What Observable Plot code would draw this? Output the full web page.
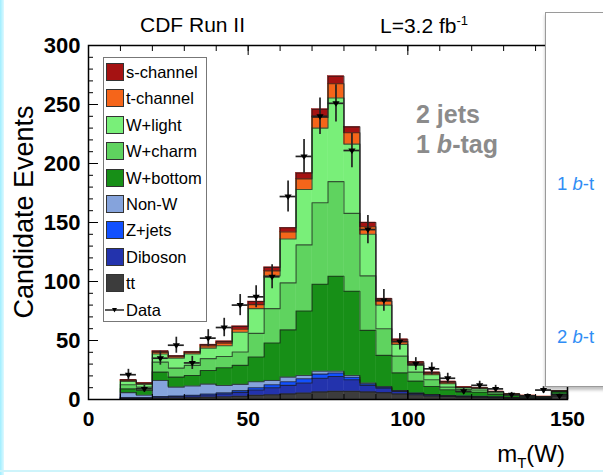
<!DOCTYPE html>
<html>
<head>
<meta charset="utf-8">
<script src="https://cdn.jsdelivr.net/npm/d3@7"></script>
<script src="https://cdn.jsdelivr.net/npm/@observablehq/plot@0.6"></script>
<style>
  html, body { margin: 0; padding: 0; background: #fff; }
  #chart { position: relative; width: 603px; height: 475px; overflow: hidden;
           font-family: "Liberation Sans", Arial, Helvetica, sans-serif; }
  #chart svg { position: absolute; left: 0; top: 0; }
  .txt { position: absolute; white-space: nowrap; line-height: 1; color: #000; }
  .legend { position: absolute; left: 103px; top: 57px; width: 104px; height: 265px;
            border: 1px solid #777; background: #fff; box-sizing: border-box; }
  .sw { position: absolute; left: 2px; width: 18px; height: 18px; box-sizing: border-box;
        border: 1px solid #333; }
  .lt { position: absolute; left: 22px; font-size: 16.5px; line-height: 1; white-space: nowrap; }
  .panel { position: absolute; left: 545px; top: 12px; width: 80px; height: 375px;
           border: 1px solid #9a9a9a; background: #fff; box-sizing: border-box;
           box-shadow: 0 3px 3px rgba(0,0,0,0.25); }
  .btag { position: absolute; left: 11px; font-size: 18.5px; line-height: 1; color: #2f8df5; white-space: nowrap; }
  .edgeL { position: absolute; left: 0; top: 0; width: 4px; height: 475px;
           background: linear-gradient(to right, #9feeff, #dff9ff); }
  .edgeB { position: absolute; left: 0; top: 470px; width: 603px; height: 2px; background: #cdf4fb; }
</style>
</head>
<body>
<div id="chart"></div>
<script>
// m_T(W) histogram, 2 jets / 1 b-tag, CDF Run II, 3.2 fb^-1
const binStart = [10, 15, 20, 25, 30, 35, 40, 45, 50, 55, 60, 65, 70, 75,
                  80, 85, 90, 95, 100, 105, 110, 115, 120, 125, 130, 135, 140, 145];
const binWidth = 5;

// stacked components, bottom to top
const components = ["tt", "Diboson", "Z+jets", "Non-W", "W+bottom", "W+charm", "W+light", "t-channel", "s-channel"];
const componentColors = ["#3c3c3c", "#2333ad", "#1150ff", "#85a3dc", "#178f17", "#5fd35f", "#79ef79", "#f5651a", "#a51212"];

const ttbar    = [0.6, 0.6, 1.0, 1.4, 1.6, 2.0, 2.3, 2.8, 3.6, 4.0, 4.8, 5.5, 6.5, 7.0, 7.0, 6.5, 5.8, 4.8, 4.0, 3.0, 2.5, 2.0, 1.8, 1.5, 1.2, 1.0, 0.8, 4.0];
const diboson  = [0.6, 0.6, 1.0, 1.1, 1.4, 1.8, 2.3, 3.2, 4.4, 6.0, 7.2, 8.5, 11.5, 12.5, 9.7, 5.5, 3.7, 2.0, 1.0, 0.8, 0.5, 0.6, 0.5, 0.4, 0.3, 0.2, 0.2, 0.3];
const zjets    = [0.4, 0.4, 0.6, 0.5, 0.6, 0.8, 1.0, 1.5, 2.0, 2.5, 3.0, 3.6, 3.5, 2.9, 2.1, 1.2, 0.8, 0.5, 0.3, 0.2, 0.2, 0.2, 0.2, 0.2, 0.1, 0.1, 0.1, 0.1];
const nonW     = [4.2, 2.0, 13.5, 7.5, 7.9, 8.4, 6.3, 5.3, 5.0, 3.6, 4.0, 2.8, 2.5, 1.6, 1.6, 0.8, 0.7, 0.3, 0.2, 0.2, 0.2, 0.2, 0.2, 0.1, 0.1, 0.1, 0.1, 0.1];
const wBottom  = [3.2, 4.0, 7.1, 8.5, 8.9, 11.6, 15.0, 16.1, 21.0, 31.8, 40.0, 54.6, 73.7, 80.5, 71.4, 44.6, 26.4, 15.0, 10.1, 6.8, 4.8, 3.5, 3.5, 2.1, 1.5, 1.0, 0.6, 2.0];
const wCharm   = [3.5, 2.9, 8.5, 7.6, 8.5, 10.0, 9.6, 11.3, 20.0, 29.1, 39.8, 56.0, 69.1, 80.1, 65.9, 46.2, 22.6, 14.2, 7.6, 5.7, 2.3, 2.0, 1.8, 1.2, 0.8, 0.5, 0.3, 0.3];
const wLight   = [2.8, 2.2, 6.8, 8.4, 9.6, 8.9, 9.0, 16.8, 21.0, 27.8, 37.2, 47.0, 63.2, 70.9, 58.7, 35.2, 20.0, 9.9, 5.7, 4.3, 2.8, 1.3, 1.3, 0.8, 0.5, 0.3, 0.25, 0.3];
const tChannel = [0.8, 0.8, 1.4, 1.0, 1.1, 1.8, 2.3, 2.5, 3.4, 4.2, 6.0, 9.0, 9.0, 12.1, 9.6, 6.4, 3.3, 2.6, 2.0, 0.8, 0.9, 0.4, 0.4, 0.3, 0.2, 0.1, 0.1, 0.1];
const sChannel = [0.6, 0.5, 1.1, 1.0, 0.9, 1.2, 1.5, 2.5, 2.6, 3.0, 3.5, 5.0, 7.0, 6.4, 5.0, 3.6, 2.2, 1.7, 1.1, 1.2, 1.1, 0.3, 0.3, 0.2, 0.1, 0.1, 0.05, 0.1];

// observed events per bin
const dataCounts = [21, 9, 35, 46, 31, 52, 61, 80, 87, 104, 172, 206, 240, 251, 211, 144, 84, 49, 30, 26, 18, 7, 12, 9, 4, 3, 8, 3];

const yTicks = [0, 50, 100, 150, 200, 250, 300];
const xTicks = [0, 50, 100, 150];
const legendOrder = ["s-channel", "t-channel", "W+light", "W+charm", "W+bottom", "Non-W", "Z+jets", "Diboson", "tt"];

const componentValues = [ttbar, diboson, zjets, nonW, wBottom, wCharm, wLight, tChannel, sChannel];

// stacked rectangles and per-layer step outlines
const stackRows = [];
const outlineRows = [];
const running = binStart.map(() => 0);
components.forEach((name, k) => {
  const vals = componentValues[k];
  const tops = [];
  binStart.forEach((x0, i) => {
    const y1 = running[i];
    const y2 = y1 + vals[i];
    running[i] = y2;
    tops.push(y2);
    stackRows.push({comp: name, x1: x0, x2: x0 + binWidth, y1, y2});
  });
  const xEnd = binStart[binStart.length - 1] + binWidth;
  outlineRows.push({comp: name, x: binStart[0], y: 0});
  binStart.forEach((x0, i) => outlineRows.push({comp: name, x: x0, y: tops[i]}));
  outlineRows.push({comp: name, x: xEnd, y: tops[tops.length - 1]});
  outlineRows.push({comp: name, x: xEnd, y: 0});
});

const dataRows = binStart.map((x0, i) => ({
  x1: x0, x2: x0 + binWidth, xc: x0 + binWidth / 2, n: dataCounts[i]
}));

// downward-pointing triangle marker
const triangleDown = {
  draw(context, size) {
    const h = Math.sqrt(size) * 0.62;
    context.moveTo(-h, -h * 0.55);
    context.lineTo(h, -h * 0.55);
    context.lineTo(0, h * 0.95);
    context.closePath();
  }
};

const blank = () => "";

const plot = Plot.plot({
  width: 603,
  height: 475,
  marginLeft: 88,
  marginRight: 36,
  marginTop: 45,
  marginBottom: 76,
  style: {background: "transparent", fontFamily: "'Liberation Sans', Arial, sans-serif", color: "#000"},
  x: {domain: [0, 150], label: null},
  y: {domain: [0, 300], label: null},
  color: {domain: components, range: componentColors},
  marks: [
    Plot.rect(stackRows, {x1: "x1", x2: "x2", y1: "y1", y2: "y2", fill: "comp", stroke: "comp", strokeWidth: 0.5}),
    Plot.line(outlineRows, {x: "x", y: "y", z: "comp", curve: "step-after", stroke: "#1a1a1a", strokeOpacity: 0.7, strokeWidth: 1.1}),
    Plot.ruleX(dataRows, {x: "xc", y1: d => d.n - Math.sqrt(d.n), y2: d => d.n + Math.sqrt(d.n), stroke: "#222", strokeWidth: 1.7}),
    Plot.ruleY(dataRows, {y: "n", x1: "x1", x2: "x2", stroke: "#222", strokeWidth: 1.7}),
    Plot.dot(dataRows, {x: "xc", y: "n", symbol: triangleDown, r: 3.3, fill: "#000", stroke: null}),
    Plot.frame({stroke: "#000", strokeWidth: 1.5}),
    Plot.axisY({ticks: d3.range(0, 301, 10), tickSize: -5, tickFormat: blank, label: null}),
    Plot.axisY({ticks: yTicks, tickSize: -10, tickFormat: blank, label: null}),
    Plot.axisY({ticks: yTicks, tickSize: 0, tickPadding: 8, fontSize: 22, fontWeight: "bold", label: null}),
    Plot.axisX({anchor: "top", ticks: d3.range(0, 151, 10), tickSize: -5, tickFormat: blank, label: null}),
    Plot.axisX({anchor: "top", ticks: xTicks, tickSize: -9, tickFormat: blank, label: null}),
    Plot.axisX({anchor: "bottom", ticks: d3.range(0, 151, 10), tickSize: -5, tickFormat: blank, label: null}),
    Plot.axisX({anchor: "bottom", ticks: xTicks, tickSize: -9, tickFormat: blank, label: null}),
    Plot.axisX({anchor: "bottom", ticks: xTicks, tickSize: 0, tickPadding: 12, fontSize: 21, fontWeight: "bold", label: null})
  ]
});

const chart = document.getElementById("chart");
chart.appendChild(plot);

function addText(html, style) {
  const el = document.createElement("div");
  el.className = "txt";
  el.innerHTML = html;
  Object.assign(el.style, style);
  chart.appendChild(el);
  return el;
}

// header
addText("CDF Run II", {left: "140px", top: "14px", fontSize: "21px"});
addText("L=3.2 fb<sup style='font-size:13px;vertical-align:8px'>-1</sup>", {left: "380px", top: "14px", fontSize: "21px"});

// axis titles
addText("Candidate Events", {left: "24px", top: "212px", fontSize: "27px", transform: "translate(-50%,-50%) rotate(-90deg)"});
addText("m<sub style='font-size:15px;vertical-align:-6px'>T</sub>(W)", {right: "38px", top: "442px", fontSize: "24px"});

// selection label
addText("2 jets", {left: "416px", top: "102px", fontSize: "25px", fontWeight: "bold", color: "#8b8b8b"});
addText("1 <i>b</i>-tag", {left: "416px", top: "132px", fontSize: "25px", fontWeight: "bold", color: "#8b8b8b"});

// legend
const legend = document.createElement("div");
legend.className = "legend";
const colorOf = Object.fromEntries(components.map((c, i) => [c, componentColors[i]]));
legendOrder.forEach((name, k) => {
  const cy = 14 + 26.4 * k;
  const sw = document.createElement("div");
  sw.className = "sw";
  sw.style.top = (cy - 9) + "px";
  sw.style.background = colorOf[name];
  legend.appendChild(sw);
  const t = document.createElement("div");
  t.className = "lt";
  t.style.top = (cy - 8) + "px";
  t.textContent = name;
  legend.appendChild(t);
});
{
  const cy = 14 + 26.4 * legendOrder.length;
  const s = document.createElementNS("http://www.w3.org/2000/svg", "svg");
  s.setAttribute("width", 22); s.setAttribute("height", 12);
  s.style.position = "absolute"; s.style.left = "0px"; s.style.top = (cy - 6) + "px";
  s.innerHTML = "<line x1='1' y1='6' x2='20' y2='6' stroke='#222' stroke-width='1.5'/><path d='M8,4 L13,4 L10.5,8.5 Z' fill='#000'/>";
  legend.appendChild(s);
  const t = document.createElement("div");
  t.className = "lt";
  t.style.top = (cy - 8) + "px";
  t.textContent = "Data";
  legend.appendChild(t);
}
chart.appendChild(legend);

// neighbouring panel, cut at the right edge
const panel = document.createElement("div");
panel.className = "panel";
panel.innerHTML = "<div class='btag' style='top:162px'>1 <i>b</i>-t</div><div class='btag' style='top:315px'>2 <i>b</i>-t</div>";
chart.appendChild(panel);

const eL = document.createElement("div"); eL.className = "edgeL"; chart.appendChild(eL);
const eB = document.createElement("div"); eB.className = "edgeB"; chart.appendChild(eB);
</script>
</body>
</html>
